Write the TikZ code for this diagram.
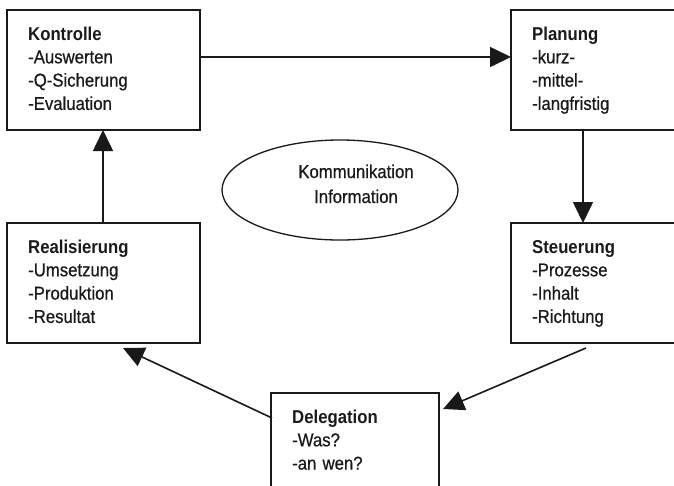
\documentclass[tikz,border=0pt]{standalone}
\usepackage{fontspec}
\setmainfont{Liberation Sans}[FakeStretch=0.9, UprightFeatures={FakeBold=0.6}]
\usetikzlibrary{arrows.meta,shapes.geometric}
\begin{document}
\begin{tikzpicture}[x=1pt,y=-1pt,
  stage/.style={draw=black!90, line width=1.8pt, rectangle, anchor=north west,
    inner sep=0pt, outer sep=0pt},
  stagetext/.style={anchor=base west, inner sep=0pt, align=left, text width=160pt,
    font=\fontsize{18.6}{23.3}\selectfont, text=black!90},
  flow/.style={draw=black!90, line width=1.6pt,
    -{Triangle[length=21pt,width=20pt]}}]
\clip (0,0) rectangle (674,485);
% the five stages of the cycle
\node[stage, minimum width=193pt, minimum height=120pt] (kontrolle) at (7,10) {};
\node[stage, minimum width=180pt, minimum height=120pt] (planung) at (511,10) {};
\node[stage, minimum width=180pt, minimum height=120pt] (steuerung) at (511,223) {};
\node[stage, minimum width=193pt, minimum height=120pt] (realisierung) at (7,223) {};
\node[stage, minimum width=168pt, minimum height=110pt] (delegation) at (271,393) {};
% labels
\node[stagetext] (tK) at ([shift={(21pt,-30pt)}]kontrolle.north west)
  {\textbf{Kontrolle}\\-Auswerten\\-Q-Sicherung\\-Evaluation};
\node[stagetext] (tP) at ([shift={(21pt,-30pt)}]planung.north west)
  {\textbf{Planung}\\-kurz-\\-mittel-\\-langfristig};
\node[stagetext] (tS) at ([shift={(21pt,-30pt)}]steuerung.north west)
  {\textbf{Steuerung}\\-Prozesse\\-Inhalt\\-Richtung};
\node[stagetext] (tR) at ([shift={(21pt,-30pt)}]realisierung.north west)
  {\textbf{Realisierung}\\-Umsetzung\\-Produktion\\-Resultat};
\node[stagetext] (tD) at ([shift={(21pt,-30pt)}]delegation.north west)
  {\textbf{Delegation}\\-Was?\\-an wen?};
% centre
\node[draw=black!90, ellipse, line width=1.3pt, minimum width=236pt,
  minimum height=100pt, inner sep=0pt] (mitte) at (340,190) {};
\node[anchor=base, inner sep=0pt, align=center, text width=140pt,
  font=\fontsize{18.6}{25}\selectfont, text=black!90] (tM) at (356,178)
  {Kommunikation\\Information};
% connectors
\draw[flow] ([yshift=-47pt]kontrolle.north east) -- ([yshift=-47pt]planung.north west);
\draw[flow] ([xshift=72pt]planung.south west) -- ([xshift=72pt]steuerung.north west);
\draw[flow] ([shift={(75pt,-5pt)}]steuerung.south west) -- ([shift={(4pt,-16pt)}]delegation.north east);
\draw[flow] ([shift={(1pt,-25pt)}]delegation.north west) -- ([shift={(116pt,-5pt)}]realisierung.south west);
\draw[flow] ([xshift=96pt]realisierung.north west) -- ([xshift=96pt]kontrolle.south west);
\end{tikzpicture}
\end{document}
